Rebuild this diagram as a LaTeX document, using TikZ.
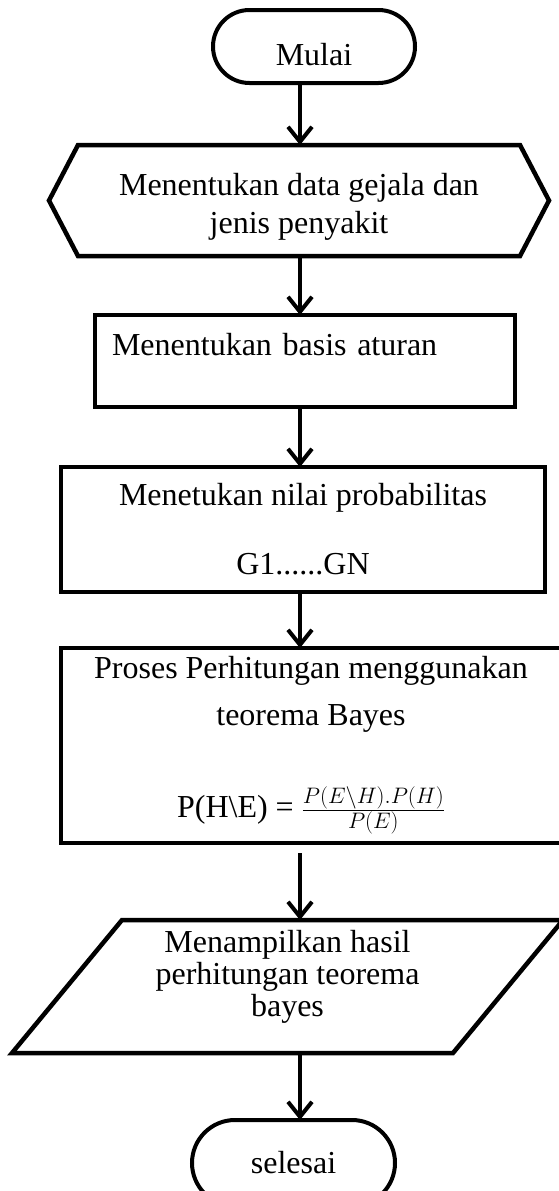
\RequirePackage{fix-cm}
\documentclass[tikz,border=0pt]{standalone}
\usepackage{fontspec}
\setmainfont{Liberation Serif}
\usetikzlibrary{arrows.meta,positioning}
\tikzstyle{chart}=[
	rectangle,
	line width=4.5pt,
	outer sep=0pt,
	inner sep=0pt,
	align=center,
	font=\fontsize{32}{40}\selectfont
]
\tikzstyle{terminal}=[
	chart,
	draw,
	line width=4pt
]
\tikzstyle{process}=[
	chart,
	draw
]
\tikzstyle{outline}=[
	line width=4.5pt
]
\tikzstyle{flow}=[
	-{Straight Barb[length=15pt,width=24pt]},
	line width=4pt
]
\begin{document}
\begin{tikzpicture}[x=1pt,y=1pt]
\fill [white] (0,0) rectangle (558,-1191);
\useasboundingbox (0,0) rectangle (558,-1191);
\coordinate (spine) at (300,0);
\node [terminal, minimum width=202pt, minimum height=73pt, rounded corners=36.5pt, text height=39pt] (Mulai) at (314,-46.5) {Mulai};
\node [chart, minimum width=442pt, minimum height=111pt, text height=72pt, font=\fontsize{32}{38}\selectfont] (DataGejala) [below=62pt of Mulai, xshift=-15pt] {Menentukan data gejala dan\\jenis penyakit};
\node [process, minimum width=420pt, minimum height=92pt, text width=386pt, align=left, inner xsep=17pt, text depth=34pt] (BasisAturan) [below=59pt of DataGejala, xshift=6pt] {Menentukan basis aturan};
\node [process, minimum width=484pt, minimum height=125pt] (NilaiProb) [below=60pt of BasisAturan, xshift=-2pt] {Menetukan nilai probabilitas\\[29pt]G1......GN};
\node [process, minimum width=500pt, minimum height=195pt] (ProsesBayes) [below=56pt of NilaiProb, xshift=8pt] {Proses Perhitungan menggunakan\\[7pt]teorema Bayes\\[52pt]P(H\textbackslash E) = $\frac{P(E\backslash H).P(H)}{P(E)}$};
\node [chart, minimum width=331pt, minimum height=133pt, text depth=27pt, font=\fontsize{32}{32}\selectfont] (HasilBayes) [below=77pt of ProsesBayes, xshift=-23.5pt] {Menampilkan hasil\\perhitungan teorema\\bayes};
\node [terminal, minimum width=203pt, minimum height=86pt, rounded corners=43pt] (Selesai) [below=67pt of HasilBayes, xshift=6pt] {selesai};
% hexagon and parallelogram round the plain nodes
\draw [outline] (DataGejala.north west) -- (DataGejala.north east) -- ([xshift=29pt]DataGejala.east) -- (DataGejala.south east) -- (DataGejala.south west) -- ([xshift=-29pt]DataGejala.west) -- cycle;
\draw [outline] (HasilBayes.north west) -- ([xshift=110pt]HasilBayes.north east) -- (HasilBayes.south east) -- ([xshift=-110pt]HasilBayes.south west) -- cycle;
% arrows
\draw [flow] (Mulai.south -| spine) -- (DataGejala.north -| spine);
\draw [flow] (DataGejala.south -| spine) -- (BasisAturan.north -| spine);
\draw [flow] (BasisAturan.south -| spine) -- (NilaiProb.north -| spine);
\draw [flow] (NilaiProb.south -| spine) -- (ProsesBayes.north -| spine);
\draw [flow, shorten <=10pt] (ProsesBayes.south -| spine) -- (HasilBayes.north -| spine);
\draw [flow] (HasilBayes.south -| spine) -- (Selesai.north -| spine);
\end{tikzpicture}
\end{document}
